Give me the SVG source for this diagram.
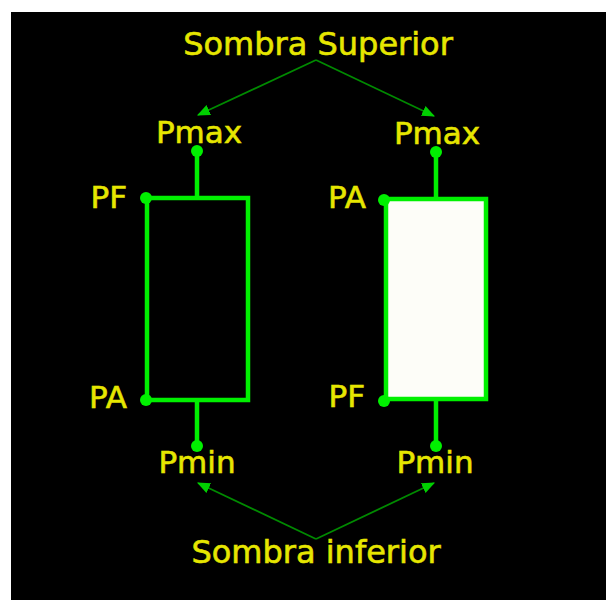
<svg xmlns="http://www.w3.org/2000/svg" width="606" height="600" viewBox="0 0 606 600">
<style>
.t{font-family:"DejaVu Sans",sans-serif;fill:#e6e600;stroke:#e6e600;stroke-width:0.6;}
.big{font-size:32px;text-anchor:middle;}
.lab{font-size:31px;}
.body{stroke:#00f000;stroke-width:4.5;}
.dot{fill:#00f000;}
.arr{stroke:#008a00;stroke-width:1.8;fill:none;marker-end:url(#ah);}
</style>
<defs>
<marker id="ah" viewBox="0 0 12 10" refX="11" refY="5" markerWidth="13" markerHeight="11" markerUnits="userSpaceOnUse" orient="auto">
<path d="M0,0 L12,5 L0,10 z" fill="#00d000"/>
</marker>
</defs>
<rect x="0" y="0" width="606" height="600" fill="#ffffff"/>
<rect x="11" y="12" width="595" height="588" fill="#000000"/>
<g id="connectors">
<line class="arr" x1="316" y1="60" x2="198" y2="115"/>
<line class="arr" x1="316" y1="60" x2="434" y2="116"/>
<line class="arr" x1="316" y1="539" x2="198" y2="483"/>
<line class="arr" x1="316" y1="539" x2="434" y2="483"/>
</g>
<g id="label-superior"><text class="t big" x="318" y="55">Sombra Superior</text></g>
<g id="label-inferior"><text class="t big" x="316" y="563">Sombra inferior</text></g>
<g id="candle-left">
<line class="body" x1="197" y1="151" x2="197" y2="198"/>
<line class="body" x1="197" y1="400" x2="197" y2="446"/>
<rect class="body" x="147" y="198" width="101" height="202" fill="none"/>
<circle class="dot" cx="197" cy="151" r="6"/>
<circle class="dot" cx="146" cy="198" r="6"/>
<circle class="dot" cx="146" cy="400" r="6"/>
<circle class="dot" cx="197" cy="446" r="6"/>
<text class="t lab" x="199" y="143" text-anchor="middle">Pmax</text>
<text class="t lab" x="127" y="208" text-anchor="end">PF</text>
<text class="t lab" x="127" y="408" text-anchor="end">PA</text>
<text class="t lab" x="197" y="473" text-anchor="middle">Pmin</text>
</g>
<g id="candle-right">
<line class="body" x1="436" y1="152" x2="436" y2="199"/>
<line class="body" x1="436" y1="399" x2="436" y2="446"/>
<rect class="body" x="386" y="199" width="100" height="200" fill="#fdfdf8"/>
<circle class="dot" cx="384" cy="200" r="6"/>
<circle class="dot" cx="384" cy="401" r="6"/>
<circle class="dot" cx="436" cy="152" r="6"/>
<circle class="dot" cx="436" cy="446" r="6"/>
<text class="t lab" x="437" y="144" text-anchor="middle">Pmax</text>
<text class="t lab" x="366" y="208" text-anchor="end">PA</text>
<text class="t lab" x="365" y="407" text-anchor="end">PF</text>
<text class="t lab" x="435" y="473" text-anchor="middle">Pmin</text>
</g>
</svg>
